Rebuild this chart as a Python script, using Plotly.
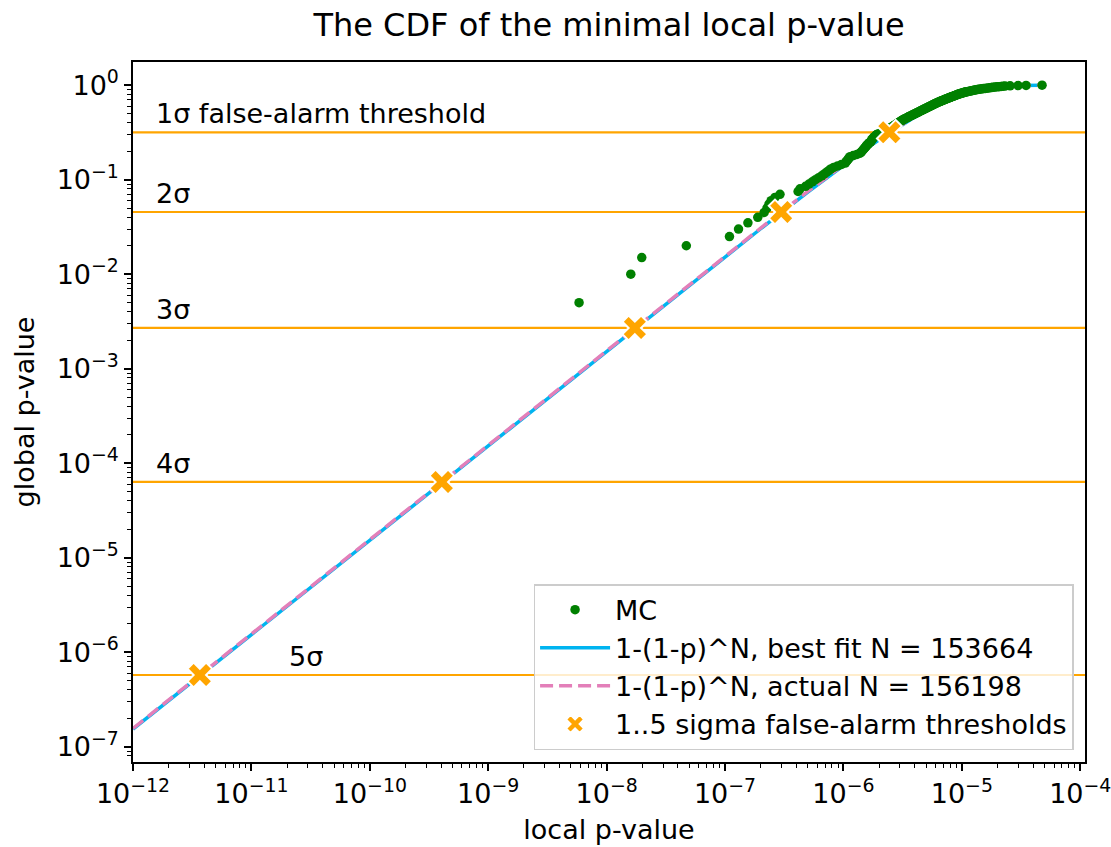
import plotly.graph_objects as go
import numpy as np

# ---------------- data ----------------
mc_local_p = [
    5.85e-9, 1.60e-8, 1.98e-8, 4.71e-8, 1.09e-7, 1.30e-7, 1.56e-7, 1.89e-7, 2.14e-7, 2.26e-7,
    2.35e-7, 2.45e-7, 2.64e-7, 2.91e-7, 4.14e-7, 4.30e-7, 4.79e-7, 5.12e-7, 5.46e-7, 5.81e-7,
    6.19e-7, 6.56e-7, 6.90e-7, 7.21e-7, 7.53e-7, 7.83e-7, 8.27e-7, 8.93e-7, 9.64e-7, 1.036e-6,
    1.056e-6, 1.077e-6, 1.096e-6, 1.117e-6, 1.137e-6, 1.21e-6, 1.30e-6, 1.37e-6, 1.41e-6, 1.43e-6,
    1.455e-6, 1.48e-6, 1.50e-6, 1.53e-6, 1.55e-6, 1.57e-6, 1.60e-6, 1.62e-6, 1.645e-6, 1.69e-6,
    1.71e-6, 1.724e-6, 1.74e-6, 1.76e-6, 1.78e-6, 1.81e-6, 1.831e-6, 1.86e-6, 1.885e-6, 1.91e-6,
    1.97e-6, 2.04e-6, 2.11e-6, 2.18e-6, 2.25e-6, 2.29e-6, 2.33e-6, 2.38e-6, 2.42e-6, 2.46e-6,
    2.50e-6, 2.55e-6, 2.593e-6, 2.64e-6, 2.69e-6, 2.73e-6, 2.771e-6, 2.82e-6, 2.86e-6, 2.91e-6,
    2.95e-6, 2.995e-6, 3.04e-6, 3.08e-6, 3.13e-6, 3.18e-6, 3.237e-6, 3.29e-6, 3.35e-6, 3.41e-6,
    3.47e-6, 3.527e-6, 3.58e-6, 3.65e-6, 3.71e-6, 3.78e-6, 3.834e-6, 3.90e-6, 3.96e-6, 4.03e-6,
    4.10e-6, 4.16e-6, 4.225e-6, 4.29e-6, 4.36e-6, 4.42e-6, 4.49e-6, 4.56e-6, 4.63e-6, 4.70e-6,
    4.767e-6, 4.833e-6, 4.898e-6, 4.965e-6, 5.034e-6, 5.112e-6, 5.182e-6, 5.253e-6, 5.326e-6, 5.399e-6,
    5.473e-6, 5.537e-6, 5.613e-6, 5.678e-6, 5.756e-6, 5.834e-6, 5.903e-6, 5.984e-6, 6.055e-6, 6.138e-6,
    6.222e-6, 6.307e-6, 6.406e-6, 6.494e-6, 6.583e-6, 6.673e-6, 6.765e-6, 6.871e-6, 6.965e-6, 7.060e-6,
    7.157e-6, 7.255e-6, 7.370e-6, 7.471e-6, 7.573e-6, 7.677e-6, 7.780e-6, 7.903e-6, 8.011e-6, 8.120e-6,
    8.231e-6, 8.343e-6, 8.459e-6, 8.576e-6, 8.693e-6, 8.796e-6, 8.917e-6, 9.039e-6, 9.162e-6, 9.288e-6,
    9.434e-6, 9.581e-6, 9.732e-6, 9.883e-6, 1.004e-5, 1.022e-5, 1.038e-5, 1.054e-5, 1.071e-5, 1.087e-5,
    1.111e-5, 1.135e-5, 1.161e-5, 1.187e-5, 1.212e-5, 1.239e-5, 1.265e-5, 1.295e-5, 1.323e-5, 1.352e-5,
    1.395e-5, 1.436e-5, 1.481e-5, 1.528e-5, 1.576e-5, 1.623e-5, 1.674e-5, 1.727e-5, 1.778e-5, 1.834e-5,
    1.907e-5, 1.983e-5, 2.062e-5, 2.143e-5, 2.228e-5, 2.317e-5, 2.553e-5, 2.983e-5, 3.485e-5, 4.757e-5,
]
mc_global_p = [
    0.005, 0.010, 0.015, 0.020, 0.025, 0.030, 0.035, 0.040, 0.045, 0.050,
    0.055, 0.060, 0.065, 0.070, 0.075, 0.080, 0.085, 0.090, 0.095, 0.100,
    0.105, 0.110, 0.115, 0.120, 0.125, 0.130, 0.135, 0.140, 0.145, 0.150,
    0.155, 0.160, 0.165, 0.170, 0.175, 0.180, 0.185, 0.190, 0.195, 0.200,
    0.205, 0.210, 0.215, 0.220, 0.225, 0.230, 0.235, 0.240, 0.245, 0.250,
    0.255, 0.260, 0.265, 0.270, 0.275, 0.280, 0.285, 0.290, 0.295, 0.300,
    0.305, 0.310, 0.315, 0.320, 0.325, 0.330, 0.335, 0.340, 0.345, 0.350,
    0.355, 0.360, 0.365, 0.370, 0.375, 0.380, 0.385, 0.390, 0.395, 0.400,
    0.405, 0.410, 0.415, 0.420, 0.425, 0.430, 0.435, 0.440, 0.445, 0.450,
    0.455, 0.460, 0.465, 0.470, 0.475, 0.480, 0.485, 0.490, 0.495, 0.500,
    0.505, 0.510, 0.515, 0.520, 0.525, 0.530, 0.535, 0.540, 0.545, 0.550,
    0.555, 0.560, 0.565, 0.570, 0.575, 0.580, 0.585, 0.590, 0.595, 0.600,
    0.605, 0.610, 0.615, 0.620, 0.625, 0.630, 0.635, 0.640, 0.645, 0.650,
    0.655, 0.660, 0.665, 0.670, 0.675, 0.680, 0.685, 0.690, 0.695, 0.700,
    0.705, 0.710, 0.715, 0.720, 0.725, 0.730, 0.735, 0.740, 0.745, 0.750,
    0.755, 0.760, 0.765, 0.770, 0.775, 0.780, 0.785, 0.790, 0.795, 0.800,
    0.805, 0.810, 0.815, 0.820, 0.825, 0.830, 0.835, 0.840, 0.845, 0.850,
    0.855, 0.860, 0.865, 0.870, 0.875, 0.880, 0.885, 0.890, 0.895, 0.900,
    0.905, 0.910, 0.915, 0.920, 0.925, 0.930, 0.935, 0.940, 0.945, 0.950,
    0.955, 0.960, 0.965, 0.970, 0.975, 0.980, 0.985, 0.990, 0.995, 1.000,
]

curve_p = [1e-12, 1e-11, 1e-10, 1e-9, 1e-8, 3e-8, 1e-7, 2e-7, 5e-7, 1e-6, 1.5e-6,
           2e-6, 3e-6, 4e-6, 5e-6, 7e-6, 1e-5, 1.5e-5, 2e-5, 2.5e-5, 3e-5, 4.76e-5]
bestfit_global = [1.5366e-7, 1.5366e-6, 1.5366e-5, 1.5365e-4, 1.5355e-3, 4.599e-3, 1.5249e-2,
                  3.0265e-2, 7.395e-2, 0.14244, 0.20586, 0.26459, 0.36934, 0.45917, 0.53620,
                  0.65892, 0.78489, 0.90023, 0.95373, 0.97854, 0.99005, 0.99933]
actual_global = [1.562e-7, 1.562e-6, 1.562e-5, 1.562e-4, 1.5608e-3, 4.675e-3, 1.5498e-2,
                 3.076e-2, 7.513e-2, 0.14461, 0.20887, 0.26831, 0.37412, 0.46463, 0.54205,
                 0.66492, 0.79028, 0.90396, 0.95602, 0.97986, 0.99078, 0.99941]

thr_local_p = [2.444e-6, 2.981e-7, 1.731e-8, 4.055e-10, 3.670e-12]
thr_global_p = [0.3173, 0.0455, 0.0027, 6.334e-5, 5.733e-7]
thr_labels = ["1σ false-alarm threshold", "2σ", "3σ", "4σ", "5σ"]
thr_label_x = [1.5e-12, 1.5e-12, 1.5e-12, 1.5e-12, 2.0e-11]

x_tickvals = [1e-12, 1e-11, 1e-10, 1e-9, 1e-8, 1e-7, 1e-6, 1e-5, 1e-4]
x_ticktext = ["10<sup>−12</sup>", "10<sup>−11</sup>", "10<sup>−10</sup>", "10<sup>−9</sup>",
              "10<sup>−8</sup>", "10<sup>−7</sup>", "10<sup>−6</sup>", "10<sup>−5</sup>",
              "10<sup>−4</sup>"]
y_tickvals = [1, 1e-1, 1e-2, 1e-3, 1e-4, 1e-5, 1e-6, 1e-7]
y_ticktext = ["10<sup>0</sup>", "10<sup>−1</sup>", "10<sup>−2</sup>", "10<sup>−3</sup>",
              "10<sup>−4</sup>", "10<sup>−5</sup>", "10<sup>−6</sup>", "10<sup>−7</sup>"]

FONT = "DejaVu Sans"
FS = 27
ORANGE = "#FFA500"

fig = go.Figure()

fig.add_trace(go.Scatter(
    x=curve_p, y=bestfit_global, mode="lines",
    line=dict(color="#00B4F0", width=3.5),
    name="1-(1-p)^N, best fit N = 153664", legendrank=2, legendgroup="b"))
fig.add_trace(go.Scatter(
    x=curve_p, y=actual_global, mode="lines",
    line=dict(color="#e37fb9", width=3.5, dash="13px,6px"),
    name="1-(1-p)^N, actual N = 156198", legendrank=3, legendgroup="c"))
fig.add_trace(go.Scatter(
    x=mc_local_p, y=mc_global_p, mode="markers",
    marker=dict(color="#008000", size=9.5, line=dict(width=0)),
    name="MC", legendrank=1, legendgroup="a"))
fig.add_trace(go.Scatter(
    x=thr_local_p, y=thr_global_p, mode="markers",
    marker=dict(symbol="x", color=ORANGE, size=22, line=dict(color="white", width=2)),
    name="1..5 sigma false-alarm thresholds", legendrank=4, legendgroup="d"))

for yv in thr_global_p:
    fig.add_shape(type="line", xref="paper", x0=0, x1=1, yref="y", y0=yv, y1=yv,
                  line=dict(color=ORANGE, width=2.2), layer="below")

for lab, xv, yv in zip(thr_labels, thr_label_x, thr_global_p):
    fig.add_annotation(x=np.log10(xv), y=np.log10(yv), text=lab, showarrow=False,
                       xanchor="left", yanchor="bottom", yshift=1,
                       font=dict(family=FONT, size=FS, color="black"))

minor_x = [m * 10.0 ** e for e in range(-12, -4) for m in range(2, 10)]
minor_y = [m * 10.0 ** e for e in range(-8, 0) for m in range(2, 10) if m * 10.0 ** e > 7.5e-8]

axis_common = dict(
    type="log", showgrid=False, zeroline=False, ticks="outside", ticklen=7, tickwidth=1.5,
    tickcolor="black", linecolor="black", linewidth=1.5, mirror=True, automargin=False,
    ticklabeloverflow="allow",
    tickfont=dict(family=FONT, size=FS, color="black"),
)

fig.update_xaxes(**axis_common, range=[-12, -3.96], tickmode="array",
                 tickvals=x_tickvals, ticktext=x_ticktext,
                 minor=dict(tickmode="array", tickvals=minor_x, ticks="outside", ticklen=4,
                            tickwidth=1.2, tickcolor="black", showgrid=False),
                 title=dict(text="local p-value", font=dict(family=FONT, size=FS, color="black"),
                            standoff=12))
fig.update_yaxes(**axis_common, range=[-7.162, 0.2455], tickmode="array",
                 tickvals=y_tickvals, ticktext=y_ticktext,
                 minor=dict(tickmode="array", tickvals=minor_y, ticks="outside", ticklen=4,
                            tickwidth=1.2, tickcolor="black", showgrid=False),
                 title=dict(text="global p-value", font=dict(family=FONT, size=FS, color="black"),
                            standoff=14))

fig.update_layout(
    width=1111, height=847,
    margin=dict(l=133, r=26, t=62, b=85),
    paper_bgcolor="white", plot_bgcolor="white",
    font=dict(family=FONT, size=FS, color="black"),
    title=dict(text="The CDF of the minimal local p-value", x=0.5, xref="paper",
               y=1 - 25 / 847, yref="container", yanchor="middle",
               font=dict(family=FONT, size=32, color="black")),
    legend=dict(x=0.988, y=0.017, xanchor="right", yanchor="bottom",
                bgcolor="rgba(255,255,255,0.8)", bordercolor="#cccccc", borderwidth=1.5,
                font=dict(family=FONT, size=FS, color="black"), itemwidth=70,
                tracegroupgap=4, traceorder="normal"),
    showlegend=True,
)

fig.write_html("out.html")
